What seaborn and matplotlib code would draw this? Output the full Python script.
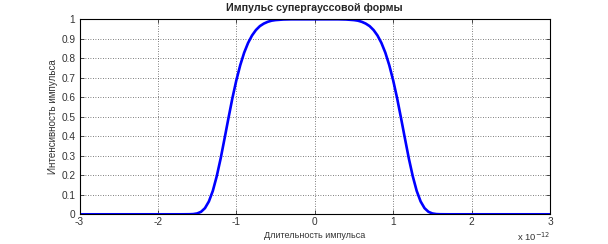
import matplotlib
matplotlib.use("Agg")
import matplotlib.pyplot as plt
import seaborn as sns
import pandas as pd

# Pulse duration (units of 1e-12 s) and intensity
time_ps = [-3.0, -2.5, -2.0, -1.7, -1.6, -1.55, -1.5, -1.45, -1.4, -1.35, -1.3, -1.25,
           -1.2, -1.15, -1.1, -1.05, -1.0, -0.95, -0.9, -0.85, -0.8, -0.75, -0.7,
           -0.65, -0.6, -0.55, -0.5, -0.4, -0.3, -0.2, -0.1, 0.0,
           0.1, 0.2, 0.3, 0.4, 0.5, 0.55, 0.6, 0.65, 0.7, 0.75, 0.8, 0.85, 0.9,
           0.95, 1.0, 1.05, 1.1, 1.15, 1.2, 1.25, 1.3, 1.35, 1.4, 1.45, 1.5, 1.55,
           1.6, 1.7, 2.0, 2.5, 3.0]
intensity = [0.0, 0.0, 0.0, 0.0, 0.0003, 0.0011, 0.0043, 0.0128, 0.0315, 0.066, 0.120, 0.195,
             0.286, 0.389, 0.494, 0.596, 0.687, 0.765, 0.829, 0.879, 0.917, 0.945, 0.965,
             0.978, 0.987, 0.993, 0.996, 0.999, 1.0, 1.0, 1.0, 1.0,
             1.0, 1.0, 1.0, 0.999, 0.996, 0.993, 0.987, 0.978, 0.965, 0.945, 0.917, 0.879, 0.829,
             0.765, 0.687, 0.596, 0.494, 0.389, 0.286, 0.195, 0.120, 0.066, 0.0315, 0.0128, 0.0043, 0.0011,
             0.0003, 0.0, 0.0, 0.0, 0.0]
x_ticks = [-3, -2, -1, 0, 1, 2, 3]
y_ticks = [0, 0.1, 0.2, 0.3, 0.4, 0.5, 0.6, 0.7, 0.8, 0.9, 1]
y_tick_labels = ["0", "0.1", "0.2", "0.3", "0.4", "0.5", "0.6", "0.7", "0.8", "0.9", "1"]

title = "Импульс супергауссовой формы"
x_label = "Длительность импульса"
y_label = "Интенсивность импульса"

sns.set_style("white")
plt.rcParams['font.family'] = ['Liberation Sans', 'DejaVu Sans']

df = pd.DataFrame({"t": time_ps, "I": intensity})

fig = plt.figure(figsize=(6.08, 2.44), dpi=100)
ax = fig.add_axes([79.5 / 608, 1 - 214.3 / 244, 470.5 / 608, 195 / 244])

sns.lineplot(data=df, x="t", y="I", ax=ax, color=(0, 0, 1), linewidth=1.9, sort=True)

ax.set_xlim(-3, 3)
ax.set_ylim(0, 1)
ax.set_xticks(x_ticks)
ax.set_xticklabels([str(v) for v in x_ticks])
ax.set_yticks(y_ticks)
ax.set_yticklabels(y_tick_labels)
ax.grid(True, linestyle=(0, (1, 2)), color="#555555", linewidth=0.6)
ax.set_axisbelow(True)
for s in ax.spines.values():
    s.set_color("black")
    s.set_linewidth(0.8)
    s.set_visible(True)
ax.tick_params(direction="in", length=3, width=0.6, labelsize=7.3, colors="#333333",
               top=True, right=True, bottom=True, left=True, pad=2)
ax.tick_params(axis="y", pad=3)
ax.set_xlabel(x_label, fontsize=6.5, color="#333333", labelpad=3)
ax.set_ylabel(y_label, fontsize=7.1, color="#333333", labelpad=2)
ax.set_title(title, fontsize=7.7, fontweight="bold", pad=6)
ax.text(1.0, -0.138, r"x 10$^{-12}$", transform=ax.transAxes, ha="right", va="baseline",
        fontsize=6.8, color="#333333")

fig.savefig("out.png", dpi=100, facecolor="white")
